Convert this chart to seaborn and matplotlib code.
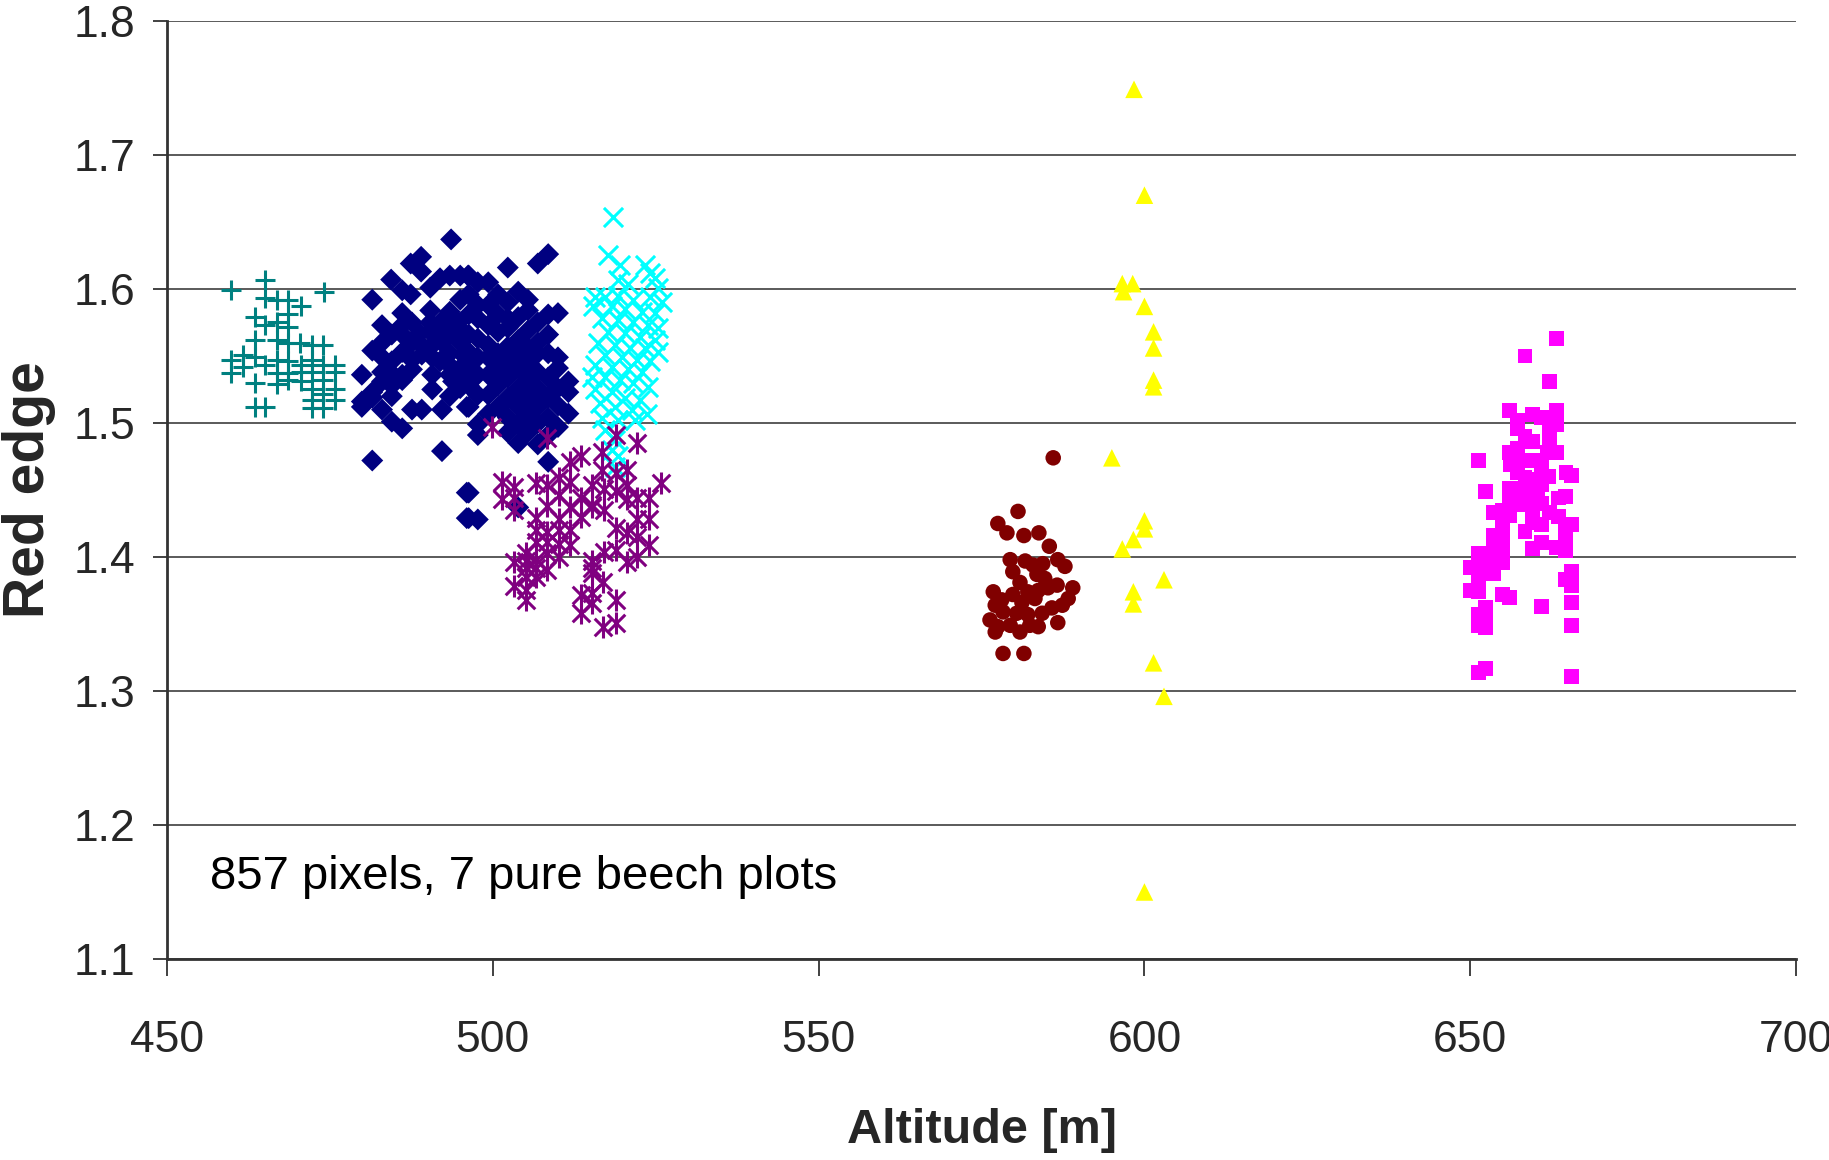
import numpy as np
import pandas as pd
import matplotlib
matplotlib.use("Agg")
import matplotlib.pyplot as plt
import seaborn as sns

# ---- data (altitude [m], red edge) per plot ----
teal_pts = [(465.0,1.607),(459.8,1.599),(474.1,1.598),(465.0,1.593),(466.9,1.592),(468.6,1.592),
            (470.6,1.587),(463.5,1.579),(465.0,1.573),(466.9,1.575),(468.6,1.581),(468.6,1.572),
            (463.5,1.562),(466.9,1.562),(468.6,1.560),(470.4,1.560),(472.3,1.558),(473.9,1.558),
            (459.8,1.547),(461.7,1.551),(463.5,1.549),(465.0,1.543),(466.9,1.547),(468.6,1.546),
            (470.6,1.543),(472.3,1.547),(473.9,1.543),(475.8,1.543),(461.7,1.542),(459.8,1.537),
            (466.9,1.537),(468.6,1.537),(470.6,1.538),(472.3,1.538),(475.8,1.538),(468.6,1.532),
            (470.6,1.531),(473.9,1.532),(463.5,1.530),(466.9,1.529),(472.3,1.525),(475.8,1.525),
            (473.9,1.522),(472.3,1.517),(475.8,1.517),(463.5,1.512),(465.0,1.512),(472.3,1.511),
            (473.9,1.511)]

navy_pts = [(493.6,1.637),(489.0,1.624),(487.4,1.619),(489.0,1.613),(484.4,1.607),(486.1,1.599),
            (487.4,1.596),(490.4,1.601),(491.9,1.608),(493.4,1.610),(495.0,1.610),(496.2,1.610),
            (481.5,1.592),(486.1,1.582),(490.4,1.584),(493.4,1.583),(495.0,1.592),(483.0,1.573),
            (486.1,1.573),(487.6,1.575),(490.4,1.575),(491.9,1.575),(494.7,1.575),(484.5,1.566),
            (486.1,1.566),(488.8,1.567),(490.4,1.568),(491.9,1.567),(493.4,1.567),(495.4,1.568),
            (483.0,1.560),(487.6,1.560),(489.1,1.558),(490.7,1.558),(492.2,1.560),(495.0,1.560),
            (481.5,1.554),(486.1,1.553),(489.1,1.551),(490.7,1.549),(493.4,1.552),(495.4,1.551),
            (483.0,1.549),(484.5,1.546),(487.6,1.547),(491.9,1.546),(493.4,1.543),(495.4,1.543),
            (479.9,1.536),(483.0,1.538),(484.5,1.537),(486.1,1.536),(487.6,1.540),(490.7,1.536),
            (493.4,1.536),(495.0,1.537),(483.0,1.531),(484.5,1.528),(486.1,1.532),(493.9,1.531),
            (495.7,1.531),(481.5,1.523),(490.7,1.525),(495.0,1.526),(479.9,1.516),(481.5,1.519),
            (484.5,1.520),(493.4,1.520),(479.9,1.512),(483.0,1.510),(487.6,1.510),(489.1,1.510),
            (492.2,1.510),(496.0,1.512),(484.5,1.501),(486.1,1.496),(492.2,1.479),(481.5,1.472),
            (496.0,1.448),(496.0,1.429),
            (508.5,1.626),(506.9,1.619),(502.3,1.616),(496.3,1.610),(497.7,1.605),(499.3,1.605),
            (503.9,1.598),(500.8,1.596),(496.3,1.596),(502.3,1.590),(505.4,1.592),(497.7,1.588),
            (499.3,1.588),(505.4,1.584),(508.5,1.581),(510.0,1.582),(496.3,1.581),(497.7,1.578),
            (500.8,1.581),(502.3,1.578),(503.9,1.579),(506.9,1.575),(499.3,1.573),(500.8,1.568),
            (502.3,1.571),(505.4,1.569),(508.5,1.566),(496.3,1.566),(497.7,1.563),(503.9,1.562),
            (506.9,1.560),(499.3,1.558),(502.3,1.557),(505.4,1.556),(496.3,1.553),(500.8,1.552),
            (503.9,1.552),(506.9,1.552),(508.5,1.552),(510.0,1.549),(497.7,1.549),(499.3,1.549),
            (502.3,1.546),(505.4,1.546),(496.3,1.541),(500.8,1.541),(503.9,1.541),(506.9,1.538),
            (510.0,1.541),(497.7,1.536),(499.3,1.536),(502.3,1.534),(505.4,1.534),(508.5,1.534),
            (511.6,1.531),(496.3,1.528),(500.8,1.528),(503.9,1.526),(506.9,1.526),(510.0,1.526),
            (511.6,1.523),(497.7,1.521),(499.3,1.521),(502.3,1.519),(505.4,1.519),(508.5,1.519),
            (496.3,1.512),(500.8,1.512),(503.9,1.512),(506.9,1.512),(510.0,1.513),(511.6,1.507),
            (499.3,1.507),(502.3,1.504),(505.4,1.504),(508.5,1.504),(497.7,1.499),(503.9,1.499),
            (506.9,1.500),(510.0,1.497),(497.7,1.491),(502.3,1.493),(505.4,1.493),(508.5,1.491),
            (503.9,1.485),(506.9,1.484),(508.5,1.471),(496.3,1.448),(503.9,1.437),(496.3,1.429),
            (497.7,1.428)]

cyan_pts = [(518.4,1.654),(517.7,1.625),(519.5,1.618),(523.4,1.618),(524.1,1.612),(524.9,1.608),
            (519.2,1.607),(520.7,1.604),(525.4,1.601),(515.7,1.594),(517.2,1.594),(519.2,1.595),
            (521.5,1.592),(524.1,1.594),(526.0,1.590),(515.4,1.587),(518.3,1.587),(520.3,1.585),
            (522.9,1.583),(524.9,1.582),(516.8,1.578),(519.2,1.577),(521.5,1.575),(523.8,1.573),
            (525.4,1.571),(517.7,1.568),(520.3,1.567),(522.6,1.564),(524.9,1.562),(516.1,1.560),
            (518.8,1.558),(521.1,1.556),(523.4,1.556),(525.4,1.553),(517.2,1.551),(519.8,1.549),
            (522.1,1.547),(524.1,1.546),(515.7,1.543),(518.3,1.542),(520.7,1.540),(522.9,1.538),
            (515.2,1.534),(517.2,1.534),(519.5,1.532),(521.5,1.530),(523.8,1.527),(515.7,1.525),
            (518.3,1.523),(520.3,1.519),(522.6,1.517),(516.4,1.515),(518.8,1.512),(521.4,1.510),
            (523.7,1.507),(516.8,1.504),(519.2,1.502),(521.8,1.502),(517.2,1.495),(518.8,1.487),
            (518.3,1.480),(519.2,1.475),(518.8,1.467)]

purple_pts = [(499.9,1.497),(508.3,1.489),(518.9,1.491),(522.1,1.485),(511.9,1.471),(513.5,1.475),
              (516.8,1.478),(516.8,1.465),(518.9,1.463),(520.6,1.465),(501.4,1.456),(503.2,1.452),
              (506.6,1.455),(508.3,1.454),(510.2,1.459),(511.9,1.456),(515.2,1.454),(517.1,1.451),
              (518.9,1.449),(520.6,1.454),(525.8,1.455),(501.4,1.443),(503.2,1.444),(510.2,1.446),
              (513.5,1.444),(515.2,1.439),(520.6,1.443),(522.1,1.444),(524.0,1.444),(503.2,1.435),
              (508.3,1.438),(511.9,1.437),(515.2,1.437),(517.1,1.435),(506.6,1.429),(510.2,1.428),
              (513.5,1.430),(518.9,1.422),(522.1,1.428),(524.0,1.428),(506.6,1.420),(508.3,1.419),
              (510.2,1.420),(511.9,1.420),(520.6,1.418),(522.1,1.415),(506.6,1.411),(508.3,1.411),
              (510.2,1.410),(511.9,1.409),(524.0,1.409),(505.1,1.403),(508.3,1.403),(510.2,1.400),
              (517.1,1.404),(518.9,1.405),(522.1,1.400),(503.2,1.396),(505.1,1.397),(506.6,1.398),
              (515.2,1.397),(520.6,1.396),(505.1,1.392),(506.6,1.392),(508.3,1.390),(515.2,1.392),
              (505.1,1.385),(506.6,1.385),(515.2,1.388),(516.9,1.381),(503.2,1.378),(505.1,1.375),
              (513.5,1.372),(515.2,1.373),(518.9,1.368),(505.1,1.368),(513.5,1.358),(515.2,1.366),
              (516.9,1.348),(518.9,1.351)]

brown_pts = [(586.0,1.474),(580.6,1.434),(577.5,1.425),(578.9,1.418),(581.5,1.416),(583.8,1.418),
             (585.4,1.408),(579.4,1.398),(581.7,1.397),(582.9,1.394),(584.4,1.395),(586.7,1.398),
             (587.8,1.393),(579.8,1.389),(583.5,1.387),(580.9,1.381),(584.7,1.384),(586.6,1.379),
             (576.8,1.374),(579.8,1.372),(582.1,1.374),(583.7,1.375),(585.2,1.377),(589.0,1.377),
             (578.1,1.368),(581.2,1.366),(583.2,1.369),(588.3,1.369),(577.1,1.364),(578.3,1.359),
             (580.4,1.358),(582.1,1.357),(584.3,1.358),(585.8,1.362),(587.4,1.364),(576.3,1.353),
             (577.5,1.348),(579.4,1.349),(580.9,1.344),(582.4,1.349),(583.7,1.348),(586.7,1.351),
             (577.1,1.344),(578.3,1.328),(581.5,1.328)]

yellow_pts = [(598.4,1.749),(600.0,1.670),(596.6,1.604),(596.8,1.598),(598.2,1.604),(600.0,1.587),
              (601.4,1.568),(601.4,1.556),(601.4,1.532),(601.4,1.527),(595.0,1.474),(600.0,1.427),
              (600.0,1.421),(598.3,1.413),(596.6,1.406),(603.0,1.383),(598.3,1.374),(598.3,1.365),
              (601.4,1.321),(603.0,1.296),(600.0,1.150)]

magenta_pts = [(663.3,1.563),(658.4,1.550),(662.1,1.531),(656.0,1.509),(657.2,1.502),(659.5,1.506),
               (660.9,1.504),(663.3,1.509),(663.3,1.499),(657.2,1.496),(658.4,1.490),(662.1,1.493),
               (659.6,1.486),(662.1,1.486),(651.2,1.472),(656.0,1.478),(657.2,1.481),(663.3,1.478),
               (661.8,1.478),(656.1,1.469),(658.0,1.472),(660.0,1.472),(661.0,1.469),(664.7,1.463),
               (665.6,1.461),(657.3,1.463),(661.0,1.463),(658.4,1.459),(660.3,1.458),(662.0,1.460),
               (657.3,1.451),(659.5,1.452),(661.0,1.454),(652.4,1.449),(656.0,1.451),(656.0,1.444),
               (658.1,1.445),(660.3,1.446),(663.5,1.444),(664.6,1.445),(656.9,1.439),(658.9,1.439),
               (661.0,1.440),(653.6,1.433),(654.9,1.435),(656.1,1.431),(659.6,1.433),(662.2,1.433),
               (663.5,1.430),(654.9,1.425),(659.6,1.426),(660.9,1.424),(664.6,1.424),(665.6,1.424),
               (658.4,1.419),(653.5,1.416),(654.9,1.414),(664.6,1.416),(660.9,1.411),(659.6,1.406),
               (663.3,1.407),(664.6,1.405),(653.5,1.409),(654.9,1.404),(651.2,1.403),(652.4,1.400),
               (653.5,1.399),(654.9,1.396),(650.0,1.392),(651.2,1.394),(652.4,1.389),(653.6,1.388),
               (651.2,1.384),(665.6,1.389),(664.6,1.383),(665.6,1.379),(650.0,1.375),(651.2,1.374),
               (654.9,1.372),(656.0,1.370),(660.9,1.363),(665.6,1.366),(652.4,1.362),(651.2,1.357),
               (652.4,1.355),(651.2,1.349),(652.4,1.347),(665.6,1.349),(651.2,1.314),(652.4,1.317),
               (665.6,1.311)]

x_ticks = [450, 500, 550, 600, 650, 700]
y_ticks = [1.1, 1.2, 1.3, 1.4, 1.5, 1.6, 1.7, 1.8]
note_text = "857 pixels, 7 pure beech plots"


def frame(pts):
    return pd.DataFrame(pts, columns=["alt", "red"])


sns.set_style("white")
plt.rcParams["font.family"] = ["Liberation Sans", "DejaVu Sans"]

fig = plt.figure(figsize=(18.29, 11.60), dpi=100)
ax = fig.add_axes([0.0913, 0.1733, 0.8907, 0.8086])

ax.set_xlim(450, 700)
ax.set_ylim(1.1, 1.8)
ax.set_yticks(y_ticks)
ax.set_yticklabels([f"{v:.1f}" for v in y_ticks])
ax.set_xticks(x_ticks)
ax.set_xticklabels([str(v) for v in x_ticks])
ax.yaxis.grid(True, color="#4d4d4d", linewidth=1.3)
ax.xaxis.grid(False)
ax.set_axisbelow(True)
for s in ["top", "right"]:
    ax.spines[s].set_visible(False)
for s in ["left", "bottom"]:
    ax.spines[s].set_color("#333333")
    ax.spines[s].set_linewidth(2)

ax.tick_params(axis="y", direction="out", length=10, width=1.3, color="#333333",
               labelsize=32, pad=13, left=True)
ax.tick_params(axis="x", direction="out", length=12, width=1.3, color="#333333",
               labelsize=32, pad=32, bottom=True)

kw = dict(ax=ax, legend=False, edgecolor="none")
sns.scatterplot(data=frame(teal_pts), x="alt", y="red", marker="+", color="#008080",
                s=210, linewidth=2.2, ax=ax, legend=False)
sns.scatterplot(data=frame(navy_pts), x="alt", y="red", marker="D", color="#000080",
                s=125, **kw)
sns.scatterplot(data=frame(cyan_pts), x="alt", y="red", marker="x", color="#00FFFF",
                s=190, linewidth=2.2, ax=ax, legend=False)
sns.scatterplot(data=frame(purple_pts), x="alt", y="red", marker="x", color="#800080",
                s=160, linewidth=2.2, ax=ax, legend=False)
sns.scatterplot(data=frame(purple_pts), x="alt", y="red", marker="|", color="#800080",
                s=230, linewidth=2.2, ax=ax, legend=False)
sns.scatterplot(data=frame(brown_pts), x="alt", y="red", marker="o", color="#800000",
                s=125, **kw)
sns.scatterplot(data=frame(yellow_pts), x="alt", y="red", marker="^", color="#FFFF00",
                s=160, **kw)
sns.scatterplot(data=frame(magenta_pts), x="alt", y="red", marker="s", color="#FF00FF",
                s=115, **kw)

ax.text(456.6, 1.161, note_text, fontsize=34, va="center", ha="left", color="black")

ax.set_xlabel("Altitude [m]", fontsize=35, fontweight="bold")
ax.set_ylabel("Red edge", fontsize=41, fontweight="bold")
ax.xaxis.set_label_coords(0.5, -0.1834)
ax.xaxis.label.set_va("center")
ax.yaxis.set_label_coords(-0.0847, 0.5)
ax.yaxis.label.set_va("center")

fig.savefig("out.png", dpi=100)
